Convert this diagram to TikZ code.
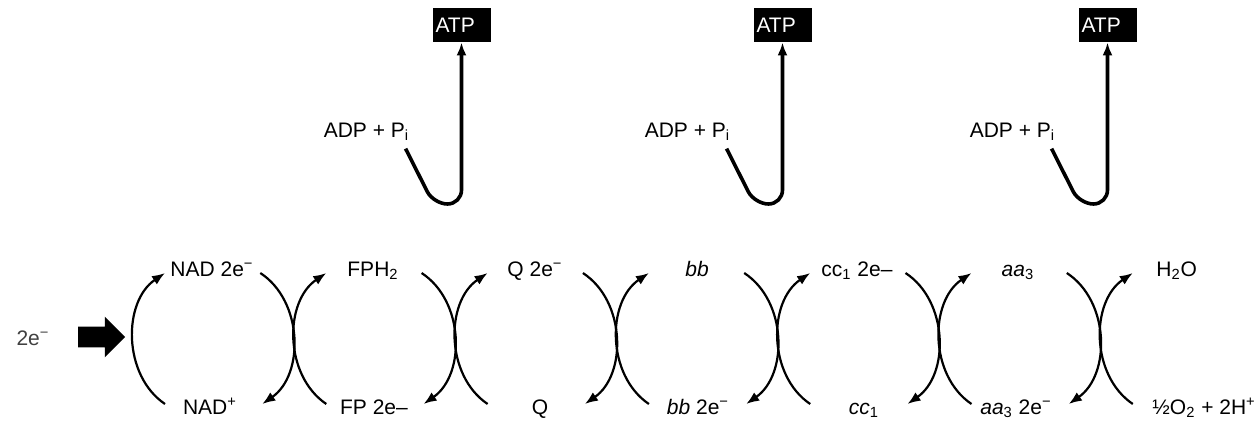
\documentclass[tikz,border=0pt]{standalone}
\usepackage{fontspec}
\setmainfont{Liberation Sans}
\usepackage{tikz}
\usetikzlibrary{arrows.meta,shapes.arrows}
\tikzset{
  redox/.style={-{Latex[length=6.5pt,width=5pt]},line width=1.1pt},
  hook/.style={-{Latex[length=6.5pt,width=5pt]},line width=1.8pt,rounded corners=7pt},
  atpbox/.style={fill=black,text=white,text width=26pt,align=left,inner xsep=1.5pt,inner ysep=0pt,minimum height=17pt},
  species/.style={anchor=base,inner sep=1pt},
  inflowarrow/.style={single arrow,fill=black,inner xsep=0pt,inner ysep=5pt,minimum height=23.5pt,
    single arrow head extend=5pt,single arrow head indent=0pt}
}

\begin{document}
\begin{tikzpicture}[x=0.5pt,y=-0.5pt,font=\fontsize{10.5}{12}\selectfont]
\useasboundingbox (0,0) rectangle (1260,423);

% phosphorylation sites
\foreach \n/\s in {1/461.5,2/782.5,3/1107.5} {
  \node[atpbox] (atp\n) at (\s,25) {ATP};
  \node[species] (adp\n) at (\s-95,137) {ADP + P\textsubscript{i}};
  \draw[hook] ([xshift=-3pt,yshift=-3pt]adp\n.south east) -- (\s-28,204) -| (atp\n.south);
}

% incoming electrons
\node[species,text=black!75] (elec) at (33,345) {2e\textsuperscript{−}};
\node[inflowarrow] (inflow) at (96.5,337) {};

% ends of the redox arcs
\foreach \k in {0,...,6} {
  \pgfmathsetmacro\xc{132+161.3*\k}
  \coordinate (rb\k) at (\xc+33,404);
  \coordinate (rt\k) at (\xc+33,273);
  \coordinate (lt\k) at (\xc-33,273);
  \coordinate (lb\k) at (\xc-31,404);
}
\foreach \k in {0,...,6}
  \draw[redox] (rb\k) to[bend left=56] (rt\k);
\foreach \k in {1,...,6}
  \draw[redox] (lt\k) to[bend left=56] (lb\k);

% carriers, top row
\node[species] (nadred) at (212,276) {NAD 2e\textsuperscript{−}};
\node[species] (fph) at (373,276) {FPH\textsubscript{2}};
\node[species] (qred) at (535,276) {Q 2e\textsuperscript{−}};
\node[species] (bbox) at (697,276) {\itshape bb};
\node[species] (ccred) at (857,276) {cc\textsubscript{1} 2e–};
\node[species] (aaox) at (1018,276) {\itshape aa\textsubscript{\upshape 3}};
\node[species,anchor=base west] (water) at (1154,276) {H\textsubscript{2}O};

% carriers, bottom row
\node[species] (nadox) at (210,414) {NAD\textsuperscript{+}};
\node[species] (fpred) at (374,414) {FP 2e–};
\node[species] (qox) at (540,414) {Q};
\node[species] (bbred) at (698,414) {\itshape bb\upshape\ 2e\textsuperscript{−}};
\node[species] (ccox) at (864,414) {\itshape cc\textsubscript{\upshape 1}};
\node[species] (aared) at (1016,414) {\itshape aa\textsubscript{\upshape 3}\upshape\ 2e\textsuperscript{−}};
\node[species,anchor=base west] (oxygen) at (1150,414) {½O\textsubscript{2} + 2H\textsuperscript{+}};

\end{tikzpicture}
\end{document}
